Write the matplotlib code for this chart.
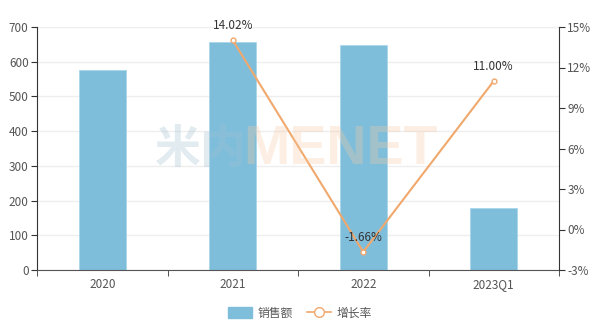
import matplotlib
matplotlib.use("Agg")
import matplotlib.pyplot as plt
import numpy as np
from matplotlib.lines import Line2D
from matplotlib.patches import Patch

plt.rcParams['font.family'] = ['Noto Sans CJK SC', 'DejaVu Sans']

categories = ["2020", "2021", "2022", "2023Q1"]
sales = [576, 657, 648, 178]
growth = [None, 14.02, -1.66, 11.00]
left_ticks = [0, 100, 200, 300, 400, 500, 600, 700]
right_ticks = [-3, 0, 3, 6, 9, 12, 15]

fig = plt.figure(figsize=(6, 3.33), dpi=100)
ax = fig.add_axes([37/600, 1-270/333, (559-37)/600, (270-27)/333])
x = np.arange(len(categories))
bar_color = "#7fbedb"
line_color = "#f0a86c"
ax.bar(x, sales, width=0.36, color=bar_color, edgecolor="#a9d6ea", linewidth=0.6, zorder=2)
ax.set_xlim(-0.5, len(categories)-0.5)
ax.set_ylim(0, 700)
ax.set_yticks(left_ticks)
ax.set_xticks(x)
ax.set_xticklabels(categories)
ax.set_xticks(np.arange(len(categories)+1)-0.5, minor=True)
ax.tick_params(axis='x', which='major', length=0, pad=6, labelsize=8.5, labelcolor="#555555")
ax.tick_params(axis='x', which='minor', length=4, color="#333333", direction='out')
ax.tick_params(axis='y', length=4, color="#333333", labelsize=8.5, labelcolor="#555555", pad=2)
ax.grid(axis='y', color="#eeeeee", linewidth=1, zorder=0)
for s in ['top', 'right']:
    ax.spines[s].set_visible(False)
ax.spines['left'].set_color("#333333")
ax.spines['bottom'].set_color("#555555")

ax2 = ax.twinx()
ax2.set_ylim(-3, 15)
ax2.set_yticks(right_ticks)
ax2.set_yticklabels([f"{t}%" for t in right_ticks])
ax2.tick_params(axis='y', length=4, color="#333333", labelsize=8.5, labelcolor="#555555", pad=2)
for s in ['top', 'left', 'bottom']:
    ax2.spines[s].set_visible(False)
ax2.spines['right'].set_color("#333333")
gx = [i for i, g in enumerate(growth) if g is not None]
gy = [g for g in growth if g is not None]
ax2.plot(gx, gy, color=line_color, linewidth=1.5, marker='o', markersize=3.5,
         markerfacecolor='white', markeredgecolor=line_color, zorder=3)
for xi, yi in zip(gx, gy):
    ax2.annotate(f"{yi:.2f}%", (xi, yi), xytext=(0, 6), textcoords='offset points',
                 ha='center', va='bottom', fontsize=8.5, color="#333333", zorder=4)

# watermark
fig.text(155/600, 1-150/333, "米内", fontsize=33, fontweight='bold', color="#9fbfd0", alpha=0.3,
         ha='left', va='center')
fig.text(243/600, 1-150/333, "MENET", fontsize=40, fontweight='bold', color="#f7c9a0", alpha=0.3,
         ha='left', va='center', family='Liberation Sans')

# legend
handles = [Patch(facecolor=bar_color, edgecolor=bar_color),
           Line2D([0], [0], color=line_color, linewidth=1.2, marker='o', markersize=7,
                  markerfacecolor='white', markeredgecolor=line_color)]
fig.legend(handles, ["销售额", "增长率"], loc='center', bbox_to_anchor=(0.5, 1-313/333),
           ncol=2, frameon=False, fontsize=8.5, labelcolor="#555555", handlelength=2.0,
           handleheight=1.1, columnspacing=1.2, handletextpad=0.5)

fig.savefig("out.png", dpi=100)
